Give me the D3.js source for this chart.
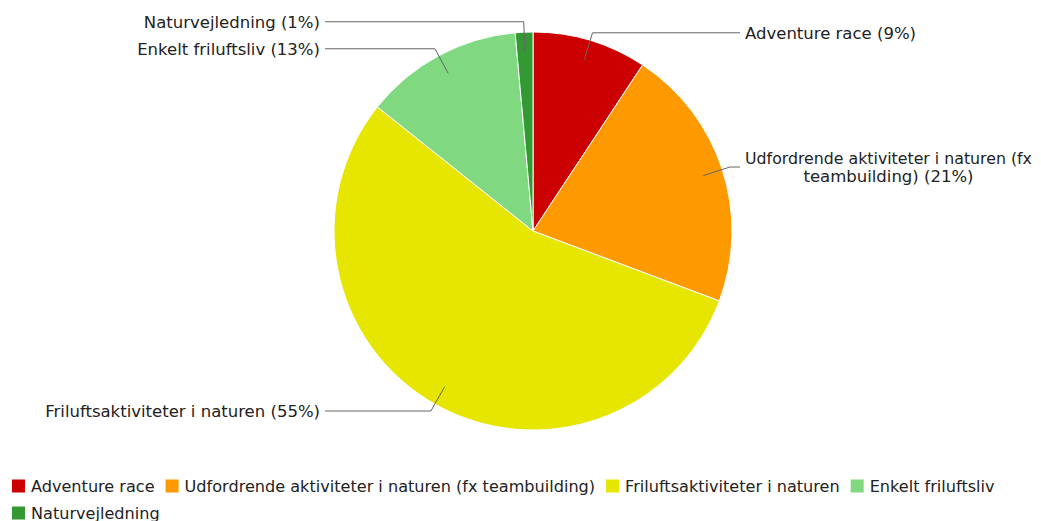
<!DOCTYPE html>
<html>
<head>
<meta charset="utf-8">
<script src="https://cdn.jsdelivr.net/npm/d3@7"></script>
<style>
  body { margin: 0; background: #fff; }
  text { font-family: "DejaVu Sans", Verdana, sans-serif; fill: #222; }
</style>
</head>
<body>
<script>
// data
const categories = ["Adventure race", "Udfordrende aktiviteter i naturen (fx teambuilding)",
    "Friluftsaktiviteter i naturen", "Enkelt friluftsliv", "Naturvejledning"];
const counts = [13, 30, 77, 18, 2];
const colors = ["#cc0000", "#ff9900", "#e6e600", "#80d880", "#339933"];

const width = 1041, height = 521;
const cx = 533, cy = 231, radius = 199;
const fontSize = 16.5, legendFont = 16.1;

const svg = d3.select("body")
    .append("svg")
    .attr("width", width)
    .attr("height", height);

const total = d3.sum(counts);
const pie = d3.pie().sort(null).value(d => d);
const arcs = pie(counts);

const arc = d3.arc().innerRadius(0).outerRadius(radius);
const inner = d3.arc().innerRadius(radius * 0.9).outerRadius(radius * 0.9);
const outer = d3.arc().innerRadius(radius * 1.04).outerRadius(radius * 1.04);

const g = svg.append("g").attr("transform", `translate(${cx},${cy})`);

// slices
g.selectAll("path.slice")
    .data(arcs)
    .join("path")
    .attr("class", "slice")
    .attr("d", arc)
    .attr("fill", (d, i) => colors[i])
    .attr("stroke", "#fff")
    .attr("stroke-width", 1);

// label positions
const labels = arcs.map((d, i) => {
    const mid = (d.startAngle + d.endAngle) / 2;
    const p0 = inner.centroid(d);
    const p1 = outer.centroid(d);
    return {
        i: i,
        right: mid < Math.PI,
        p0: p0,
        p1: p1,
        y: p1[1],
        text: categories[i] + " (" + Math.round(counts[i] / total * 100) + "%)"
    };
});

// simple overlap fix, per side, pushing upward
["left", "right"].forEach(side => {
    const list = labels.filter(l => (side === "right") === l.right)
        .sort((a, b) => b.y - a.y);
    for (let k = 1; k < list.length; k++) {
        if (list[k].y > list[k - 1].y - 27) list[k].y = list[k - 1].y - 27;
    }
});

const lineG = g.append("g");
const textG = g.append("g");

labels.forEach(l => {
    const endX = l.right ? 207 : -208;
    lineG.append("polyline")
        .attr("points", [l.p0, [l.p1[0], l.y], [endX, l.y]].map(p => p.join(",")).join(" "))
        .attr("fill", "none")
        .attr("stroke", "#666")
        .attr("stroke-width", 1);

    if (l.right) {
        const x0 = 212;
        const avail = width - cx - x0 - 9;   // room up to the right edge
        const wrapW = avail + 20;            // the original font runs a bit narrower
        const words = l.text.split(" ");
        let lines = [], cur = "";
        const probe = textG.append("text").attr("font-size", fontSize);
        const measure = s => { probe.text(s); return probe.node().getComputedTextLength(); };
        words.forEach(w => {
            const test = cur ? cur + " " + w : w;
            if (measure(test) > wrapW && cur) {
                lines.push(cur);
                cur = w;
            } else cur = test;
        });
        lines.push(cur);
        const lens = lines.map(s => measure(s));
        probe.remove();
        const maxLen = Math.min(d3.max(lens), avail);
        const lh = 18;
        const top = l.y - (lines.length - 1) * lh / 2;
        lines.forEach((s, k) => {
            // shrink a line a little if it would run past the edge
            const fs = lens[k] > avail ? fontSize * avail / lens[k] : fontSize;
            textG.append("text")
                .attr("font-size", fs)
                .attr("text-anchor", "middle")
                .attr("x", x0 + maxLen / 2)
                .attr("y", top + k * lh)
                .attr("dy", "0.35em")
                .text(s);
        });
    } else {
        textG.append("text")
            .attr("font-size", fontSize)
            .attr("text-anchor", "end")
            .attr("x", -213)
            .attr("y", l.y)
            .attr("dy", "0.35em")
            .text(l.text);
    }
});

// legend, flowing left to right
const legend = svg.append("g");
let lx = 12, ly = 486;
categories.forEach((c, i) => {
    const item = legend.append("g");
    item.append("rect")
        .attr("width", 13).attr("height", 13)
        .attr("y", -6.5)
        .attr("fill", colors[i]);
    const t = item.append("text")
        .attr("x", 19)
        .attr("dy", "0.35em")
        .attr("font-size", legendFont)
        .text(c);
    const w = 19 + t.node().getComputedTextLength();
    if (lx + w > width - 10) {
        lx = 12;
        ly += 27;
    }
    item.attr("transform", `translate(${lx},${ly})`);
    lx += w + 11;
});
</script>
</body>
</html>
